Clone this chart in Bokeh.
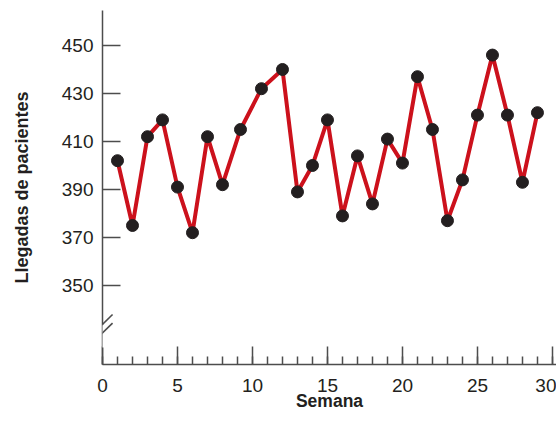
from bokeh.plotting import figure
from bokeh.models import Range1d, FixedTicker, SingleIntervalTicker, Arrow, PolyAnnotation
from bokeh.embed import file_html
from bokeh.resources import INLINE

# Data
weeks = [1, 2, 3, 4, 5, 6, 7, 8, 9.2, 10.6, 12, 13, 14, 15, 16, 17, 18, 19, 20,
         21, 22, 23, 24, 25, 26, 27, 28, 29]
arrivals = [402, 375, 412, 419, 391, 372, 412, 392, 415, 432, 440, 389, 400, 419,
            379, 404, 384, 411, 401, 437, 415, 377, 394, 421, 446, 421, 393, 422]
y_ticks = [350, 370, 390, 410, 430, 450]
x_label = "Semana"
y_label = "Llegadas de pacientes"

AX = "#4d4d4d"
TXT = "#231f20"

p = figure(width=556, height=436, output_backend="svg", toolbar_location=None,
           x_range=Range1d(0, 30.27), y_range=Range1d(317.08, 464.58),
           min_border_left=102, min_border_right=0, min_border_top=10,
           min_border_bottom=72)
p.grid.visible = False
p.outline_line_color = None
p.background_fill_color = "white"
p.border_fill_color = "white"

# x axis
xa = p.xaxis[0]
xa.ticker = SingleIntervalTicker(interval=5, num_minor_ticks=5)
xa.major_tick_in = 18
xa.major_tick_out = 0
xa.minor_tick_in = 8
xa.minor_tick_out = 0
xa.axis_line_color = AX
xa.axis_line_width = 1.5
xa.major_tick_line_color = AX
xa.major_tick_line_width = 1.5
xa.minor_tick_line_color = AX
xa.minor_tick_line_width = 1.5
xa.major_label_text_font = "Liberation Sans"
xa.major_label_text_font_size = "19px"
xa.major_label_text_color = TXT
xa.major_label_standoff = 14
xa.axis_label = x_label
xa.axis_label_text_font = "Liberation Sans"
xa.axis_label_text_font_style = "bold"
xa.axis_label_text_font_size = "17.5px"
xa.axis_label_text_color = TXT
xa.axis_label_standoff = -4

# y axis
ya = p.yaxis[0]
ya.ticker = FixedTicker(ticks=y_ticks)
ya.major_tick_in = 18
ya.major_tick_out = 0
ya.minor_tick_line_color = None
ya.axis_line_color = AX
ya.axis_line_width = 1.5
ya.major_tick_line_color = AX
ya.major_tick_line_width = 1.5
ya.major_label_text_font = "Liberation Sans"
ya.major_label_text_font_size = "19px"
ya.major_label_text_color = TXT
ya.major_label_standoff = 9
ya.axis_label = y_label
ya.axis_label_text_font = "Liberation Sans"
ya.axis_label_text_font_style = "bold"
ya.axis_label_text_font_size = "18px"
ya.axis_label_text_color = TXT
ya.axis_label_standoff = 27

# axis break marks
p.add_layout(PolyAnnotation(xs=[-0.2, 0.2, 0.2, -0.2], ys=[324.2, 324.2, 333.6, 333.6],
                            xs_units="data", ys_units="data",
                            fill_color="white", fill_alpha=1.0, line_color=None))
p.add_layout(Arrow(end=None, x_start=-0.63, y_start=329.9, x_end=0.67, y_end=337.9,
                   line_color=AX, line_width=1.6))
p.add_layout(Arrow(end=None, x_start=-0.63, y_start=326.4, x_end=0.67, y_end=334.3,
                   line_color=AX, line_width=1.6))

# data
p.line(weeks, arrivals, line_color="#cc111c", line_width=4)
p.scatter(weeks, arrivals, size=12, fill_color=TXT, line_color=TXT)

open("out.html", "w").write(file_html(p, INLINE))
